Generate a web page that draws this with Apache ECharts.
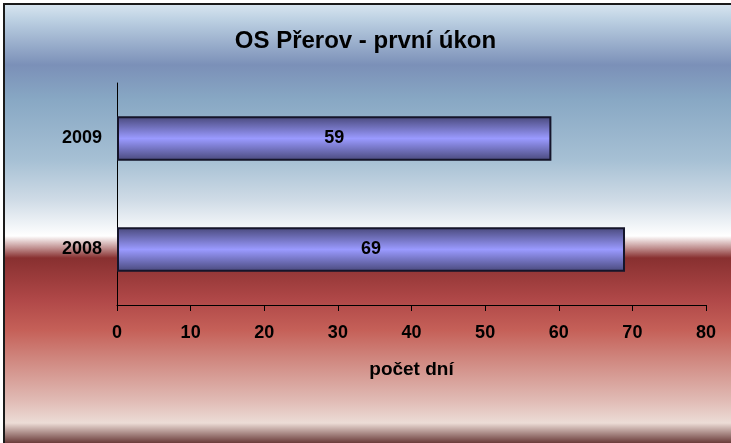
<!DOCTYPE html>
<html>
<head>
<meta charset="utf-8">
<script src="https://cdn.jsdelivr.net/npm/echarts@6/dist/echarts.min.js"></script>
<style>
  html, body { margin: 0; padding: 0; background: #ffffff; }
  #chart { width: 731px; height: 443px; }
</style>
</head>
<body>
<div id="chart"></div>
<script>
// Years shown on the category axis (bottom to top)
const years = ['2008', '2009'];
// Days until the first act, per year
const days = [69, 59];
// Value axis ticks
const axisMin = 0;
const axisMax = 80;
const axisStep = 10;

const titleText = 'OS Přerov - první úkon';
const axisName = 'počet dní';

const fontFamily = '"Liberation Sans", Arial, sans-serif';

const chart = echarts.init(document.getElementById('chart'), null, { renderer: 'canvas' });

// Vertical background band: blue sky fading to white, then deep red fading to pale pink
const H = 443, top0 = 5;
const stop = (y, c) => ({ offset: (y - top0) / (H - top0), color: c });
const bgGradient = new echarts.graphic.LinearGradient(0, 0, 0, 1, [
  stop(5, '#d6e4ef'),
  stop(20, '#bcd0e2'),
  stop(65, '#7b90b8'),
  stop(100, '#88a8c4'),
  stop(160, '#a6c0d4'),
  stop(200, '#cfdbe6'),
  stop(236, '#ffffff'),
  stop(248, '#c09090'),
  stop(258, '#883030'),
  stop(300, '#b04848'),
  stop(330, '#c56058'),
  stop(360, '#d08880'),
  stop(400, '#e0bab4'),
  stop(423, '#ecdcd6'),
  stop(443, '#6a3c3a')
]);

// Cylinder-like shading on each bar
const barGradient = new echarts.graphic.LinearGradient(0, 0, 0, 1, [
  { offset: 0, color: '#48487a' },
  { offset: 0.5, color: '#9a9aff' },
  { offset: 1, color: '#48487a' }
]);

chart.setOption({
  animation: false,
  graphic: [
    {
      type: 'rect', z: -10, silent: true,
      shape: { x: 5, y: top0, width: 731 - 5, height: H - top0 },
      style: { fill: bgGradient }
    },
    {
      type: 'line', z: -9, silent: true,
      shape: { x1: 4, y1: 4, x2: 4, y2: 443 },
      style: { stroke: '#1a1a1a', lineWidth: 2 }
    },
    {
      type: 'line', z: -9, silent: true,
      shape: { x1: 3, y1: 4, x2: 731, y2: 4 },
      style: { stroke: '#1a1a1a', lineWidth: 2 }
    }
  ],
  title: {
    text: titleText,
    left: 'center',
    top: 24,
    textStyle: { fontFamily, fontSize: 24, fontWeight: 'bold', color: '#000' }
  },
  grid: { left: 117, right: 25, top: 83, bottom: 138, containLabel: false },
  xAxis: {
    type: 'value',
    min: axisMin,
    max: axisMax,
    interval: axisStep,
    name: axisName,
    nameLocation: 'middle',
    nameGap: 55,
    nameTextStyle: { fontFamily, fontSize: 19, fontWeight: 'bold', color: '#000' },
    axisLine: { show: true, lineStyle: { color: '#000', width: 1 } },
    axisTick: { show: true, length: 6, lineStyle: { color: '#000' } },
    axisLabel: { margin: 19, fontFamily, fontSize: 18, fontWeight: 'bold', color: '#000' },
    splitLine: { show: false }
  },
  yAxis: {
    type: 'category',
    data: years,
    axisLine: { show: true, lineStyle: { color: '#000', width: 1 } },
    axisTick: { show: false },
    axisLabel: { margin: 15, fontFamily, fontSize: 18, fontWeight: 'bold', color: '#000' }
  },
  series: [{
    type: 'bar',
    data: days,
    barWidth: '40%',
    itemStyle: { color: barGradient, borderColor: '#15152a', borderWidth: 2 },
    label: {
      show: true,
      position: 'inside',
      fontFamily, fontSize: 18, fontWeight: 'bold', color: '#000'
    }
  }]
});
</script>
</body>
</html>
